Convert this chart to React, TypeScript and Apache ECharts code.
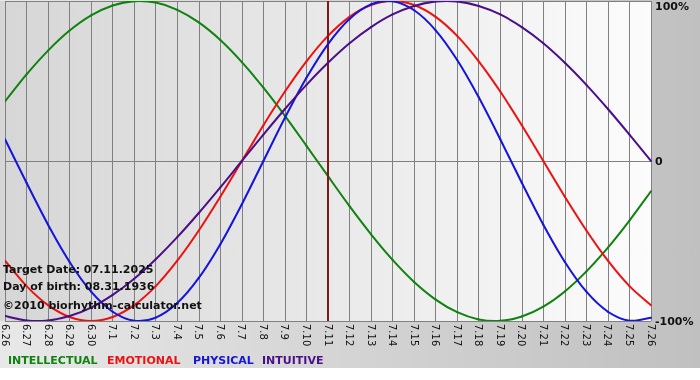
import React, { useEffect, useRef } from "react";
import * as echarts from "echarts";

const dates = [
  "6.26", "6.27", "6.28", "6.29", "6.30", "7.1", "7.2", "7.3", "7.4", "7.5", "7.6",
  "7.7", "7.8", "7.9", "7.10", "7.11", "7.12", "7.13", "7.14", "7.15", "7.16",
  "7.17", "7.18", "7.19", "7.20", "7.21", "7.22", "7.23", "7.24", "7.25", "7.26",
];

const intellectual = [
  0.372, 0.541, 0.69, 0.815, 0.91, 0.972, 0.999, 0.99, 0.945, 0.866, 0.756,
  0.618, 0.458, 0.282, 0.095, -0.095, -0.282, -0.458, -0.618, -0.756, -0.866,
  -0.945, -0.99, -0.999, -0.972, -0.91, -0.815, -0.69, -0.541, -0.372, -0.189,
];
const emotional = [
  -0.623, -0.782, -0.901, -0.975, -1.0, -0.975, -0.901, -0.782, -0.623, -0.434, -0.223,
  0.0, 0.223, 0.434, 0.623, 0.782, 0.901, 0.975, 1.0, 0.975, 0.901,
  0.782, 0.623, 0.434, 0.223, 0.0, -0.223, -0.434, -0.623, -0.782, -0.901,
];
const physical = [
  0.136, -0.136, -0.398, -0.631, -0.817, -0.942, -0.998, -0.979, -0.888, -0.731, -0.52,
  -0.27, 0.0, 0.27, 0.52, 0.731, 0.888, 0.979, 0.998, 0.942, 0.817,
  0.631, 0.398, 0.136, -0.136, -0.398, -0.631, -0.817, -0.942, -0.998, -0.979,
];
const intuitive = [
  -0.969, -0.997, -0.997, -0.969, -0.916, -0.837, -0.736, -0.614, -0.476, -0.325, -0.165,
  0.0, 0.165, 0.325, 0.476, 0.614, 0.736, 0.837, 0.916, 0.969, 0.997,
  0.997, 0.969, 0.916, 0.837, 0.736, 0.614, 0.476, 0.325, 0.165, 0.0,
];

const targetDay = "7.11";
const infoLines = [
  "Target Date: 07.11.2025",
  "Day of birth: 08.31.1936",
  "\u00A92010 biorhythm-calculator.net",
];
const legendNames = ["INTELLECTUAL", "EMOTIONAL", "PHYSICAL", "INTUITIVE"];
const legendColors = ["#0f820f", "#ee1111", "#1414dd", "#4b1088"];

const FONT = "'DejaVu Sans', Verdana, sans-serif";

export default function App() {
  const ref = useRef<HTMLDivElement>(null);

  useEffect(() => {
    if (!ref.current) return;
    const chart = echarts.init(ref.current, null, { renderer: "svg" });

    const seriesData = [intellectual, emotional, physical, intuitive];
    const legendX = [8, 107, 193, 262];
    const infoY = [264, 281, 300];

    // Smooth curve segment (Catmull-Rom) between consecutive daily readings,
    // positioned through the axes' own scales via api.coord.
    const makeRenderItem = (values: number[], color: string) =>
      (params: any, api: any) => {
        const i = params.dataIndex;
        const n = values.length;
        if (i >= n - 1) return null;
        const pt = (k: number) => {
          const kk = Math.max(0, Math.min(n - 1, k));
          return api.coord([kk, values[kk]]);
        };
        const p0 = pt(i - 1);
        const p1 = pt(i);
        const p2 = pt(i + 1);
        const p3 = pt(i + 2);
        return {
          type: "bezierCurve",
          shape: {
            x1: p1[0],
            y1: p1[1],
            x2: p2[0],
            y2: p2[1],
            cpx1: p1[0] + (p2[0] - p0[0]) / 6,
            cpy1: p1[1] + (p2[1] - p0[1]) / 6,
            cpx2: p2[0] - (p3[0] - p1[0]) / 6,
            cpy2: p2[1] - (p3[1] - p1[1]) / 6,
          },
          style: { stroke: color, lineWidth: 2, fill: null, lineCap: "round" },
        };
      };

    const option: any = {
      animation: false,
      grid: { left: 0, right: 49, top: 1, bottom: 59, containLabel: false },
      graphic: [
        {
          type: "rect",
          z: -100,
          silent: true,
          shape: { x: 0, y: 0, width: 700, height: 368 },
          style: {
            fill: new echarts.graphic.LinearGradient(0, 0, 1, 0, [
              { offset: 0, color: "#e8e8e8" },
              { offset: 1, color: "#c0c0c0" },
            ]),
          },
        },
        {
          type: "rect",
          z: -100,
          silent: true,
          shape: { x: 0, y: 368, width: 700, height: 12 },
          style: { fill: "#ffffff" },
        },
        {
          type: "rect",
          z: -99,
          silent: true,
          shape: { x: 0, y: 1, width: 651, height: 320 },
          style: {
            fill: new echarts.graphic.LinearGradient(0, 0, 1, 0, [
              { offset: 0, color: "#d6d6d6" },
              { offset: 1, color: "#fcfcfc" },
            ]),
          },
        },
        ...infoLines.map((t, i) => ({
          type: "text",
          z: 100,
          x: 3,
          y: infoY[i],
          style: { text: t, fill: "#111111", font: `bold 11px ${FONT}` },
        })),
        ...legendNames.map((name, i) => ({
          type: "text",
          z: 100,
          x: legendX[i],
          y: 355,
          style: { text: name, fill: legendColors[i], font: `bold 11px ${FONT}` },
        })),
      ],
      xAxis: {
        type: "category",
        data: dates,
        boundaryGap: false,
        axisLine: { show: false },
        axisTick: { show: false },
        axisLabel: {
          rotate: -90,
          interval: 0,
          margin: 3,
          color: "#111111",
          fontFamily: FONT,
          fontSize: 10,
        },
        splitLine: {
          show: true,
          interval: 0,
          lineStyle: { color: "#808080", width: 1 },
        },
      },
      yAxis: {
        type: "value",
        position: "right",
        min: -1,
        max: 1,
        interval: 1,
        axisLine: { show: false },
        axisTick: { show: false },
        axisLabel: {
          margin: 4,
          color: "#111111",
          fontFamily: FONT,
          fontSize: 11,
          fontWeight: "bold",
          verticalAlignMaxLabel: "top",
          formatter: (v: number) => (v === 0 ? "0" : `${Math.round(v * 100)}%`),
        },
        splitLine: { show: true, lineStyle: { color: "#808080", width: 1 } },
      },
      series: [
        {
          name: "target",
          type: "line",
          data: [],
          z: 2,
          markLine: {
            silent: true,
            symbol: "none",
            label: { show: false },
            lineStyle: { color: "#801818", width: 2, type: "solid" },
            data: [{ xAxis: targetDay }],
          },
        },
        ...legendNames.map((name, i) => ({
          name,
          type: "custom",
          coordinateSystem: "cartesian2d",
          data: seriesData[i].map((v, k) => [k, v]),
          encode: { x: 0, y: 1 },
          renderItem: makeRenderItem(seriesData[i], legendColors[i]),
          clip: true,
          z: 3 + i,
        })),
      ],
    };
    chart.setOption(option);
    return () => chart.dispose();
  }, []);

  return (
    <div
      ref={ref}
      style={{ position: "fixed", left: 0, top: 0, width: 700, height: 380 }}
    />
  );
}
